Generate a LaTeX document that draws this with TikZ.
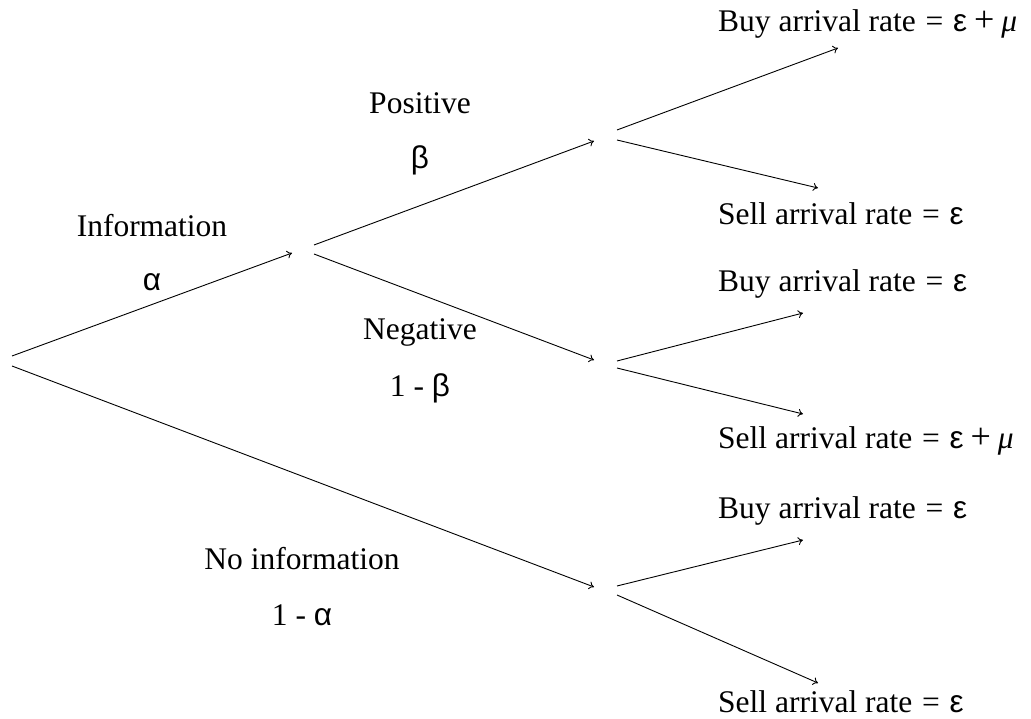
\documentclass[tikz,border=0pt]{standalone}
\usepackage{fontspec}
\setmainfont{Liberation Serif}
\newfontfamily\grk{Liberation Sans}
\usetikzlibrary{arrows.meta}
\newcommand{\Gal}{{\grk α}}
\newcommand{\Gbe}{{\grk β}}
\newcommand{\Gep}{{\grk ε}}
\newcommand{\Gmu}{\textit{μ}}
\newcommand{\Eq}{\ \hspace{0.06em}=\hspace{0.06em}\ }
\newcommand{\Pl}{\hspace{0.22em}{\fontsize{36}{36}\selectfont +}\hspace{0.22em}}
\begin{document}
\begin{tikzpicture}[x=1pt,y=-1pt,
  edge/.style={line width=0.9pt,-{To[length=5pt,width=8pt]}},
  lbl/.style={font=\fontsize{31.5}{36}\selectfont,inner sep=0pt},
  leaf/.style={lbl,anchor=west}]
\useasboundingbox (0,0) rectangle (1031,719);
% root
\coordinate (r1) at (12,356);
\coordinate (r2) at (12,366);
% info node
\coordinate (i0) at (292,253);
\coordinate (i1) at (314,245);
\coordinate (i2) at (314,254);
% positive node
\coordinate (p0) at (594,141);
\coordinate (p1) at (617,130);
\coordinate (p2) at (617,140);
% negative node
\coordinate (n0) at (594,360);
\coordinate (n1) at (617,361);
\coordinate (n2) at (617,368);
% no-info node
\coordinate (z0) at (594,587);
\coordinate (z1) at (617,586);
\coordinate (z2) at (617,595);
% leaves
\coordinate (b1) at (838,48);
\coordinate (s1) at (818,188);
\coordinate (b2) at (803,313);
\coordinate (s2) at (803,414);
\coordinate (b3) at (803,540);
\coordinate (s3) at (818,683);

\draw[edge] (r1) -- (i0);
\draw[edge] (r2) -- (z0);
\draw[edge] (i1) -- (p0);
\draw[edge] (i2) -- (n0);
\draw[edge] (p1) -- (b1);
\draw[edge] (p2) -- (s1);
\draw[edge] (n1) -- (b2);
\draw[edge] (n2) -- (s2);
\draw[edge] (z1) -- (b3);
\draw[edge] (z2) -- (s3);

\node[lbl] (tInfo) at (152,226) {Information};
\node[lbl] (tAl) at (152,282) {\Gal};
\node[lbl] (tPos) at (420,103) {Positive};
\node[lbl] (tBe) at (420,160) {\Gbe};
\node[lbl] (tNeg) at (420,332) {Negative};
\node[lbl] (tBe2) at (420,388) {1 - \Gbe};
\node[lbl] (tNo) at (302,559) {No information};
\node[lbl] (tAl2) at (302,615) {1 - \Gal};

\node[leaf] (L1) at (718,24) {Buy arrival rate\Eq\Gep\Pl\Gmu};
\node[leaf] (L2) at (718,214) {Sell arrival rate\Eq\Gep};
\node[leaf] (L3) at (718,284) {Buy arrival rate\Eq\Gep};
\node[leaf] (L4) at (718,441) {Sell arrival rate\Eq\Gep\Pl\Gmu};
\node[leaf] (L5) at (718,511) {Buy arrival rate\Eq\Gep};
\node[leaf] (L6) at (718,702) {Sell arrival rate\Eq\Gep};
\end{tikzpicture}
\end{document}
